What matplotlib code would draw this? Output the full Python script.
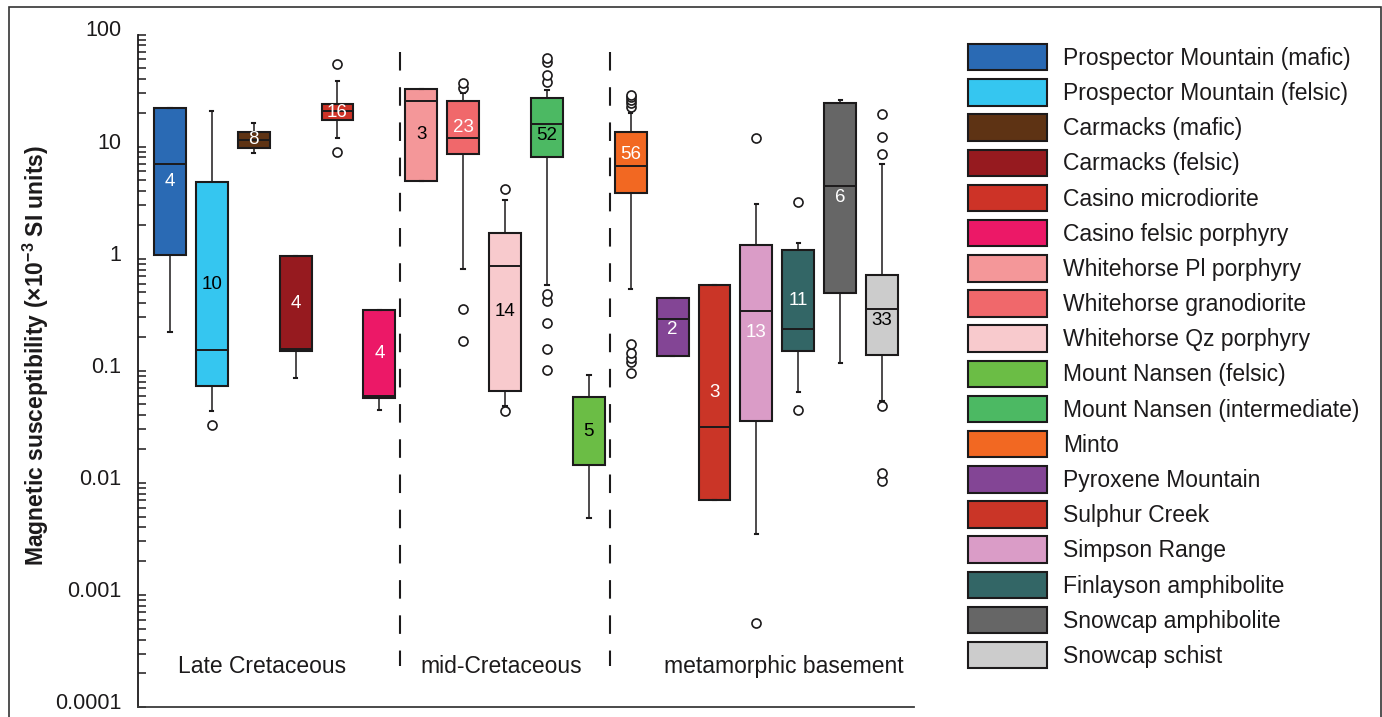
import matplotlib
matplotlib.use('Agg')
import matplotlib.pyplot as plt
from matplotlib.patches import Patch, Rectangle
from matplotlib.ticker import LogLocator, FuncFormatter, NullFormatter
from matplotlib.transforms import ScaledTranslation
import numpy as np

# Fonts (Arial look-alike), mathtext for the superscript in the y label
plt.rcParams['font.family'] = ['Liberation Sans', 'DejaVu Sans']
plt.rcParams['mathtext.fontset'] = 'custom'
plt.rcParams['mathtext.rm'] = 'Liberation Sans'
plt.rcParams['mathtext.bf'] = 'Liberation Sans:bold'

# Units in the order they appear on the chart
units = ['Prospector Mountain (mafic)', 'Prospector Mountain (felsic)',
         'Carmacks (mafic)', 'Carmacks (felsic)', 'Casino microdiorite',
         'Casino felsic porphyry', 'Whitehorse Pl porphyry', 'Whitehorse granodiorite',
         'Whitehorse Qz porphyry', 'Mount Nansen (intermediate)', 'Mount Nansen (felsic)',
         'Minto', 'Pyroxene Mountain', 'Sulphur Creek', 'Simpson Range',
         'Finlayson amphibolite', 'Snowcap amphibolite', 'Snowcap schist']
n_samples = [4, 10, 8, 4, 16, 4, 3, 23, 14, 52, 5, 56, 2, 3, 13, 11, 6, 33]

# Box statistics (x10^-3 SI)
whis_lo = [0.222, 0.0435, 8.73, 0.0863, 12.0, 0.045, 4.98, 0.807, 0.048,
           0.585, 0.00481, 0.536, 0.136, 0.007, 0.00346, 0.0647, 0.1174, 0.0533]
q1 = [1.07, 0.0732, 9.73, 0.149, 17.1, 0.0568, 4.98, 8.67, 0.0665,
      8.1, 0.01436, 3.85, 0.136, 0.007, 0.0357, 0.151, 0.497, 0.139]
median = [7.06, 0.152, 11.5, 0.156, 20.8, 0.0591, 25.7, 12.0, 0.852,
          15.9, 0.0584, 6.73, 0.291, 0.0313, 0.338, 0.236, 4.46, 0.356]
q3 = [22.3, 4.82, 13.5, 1.055, 23.9, 0.351, 32.7, 25.7, 1.71,
      27.0, 0.0584, 13.6, 0.446, 0.577, 1.33, 1.19, 24.7, 0.719]
whis_hi = [22.3, 20.9, 16.4, 1.055, 38.8, 0.351, 32.7, 29.9, 3.35,
           32.0, 0.0923, 20.1, 0.446, 0.577, 3.10, 1.37, 26.1, 7.02]
outliers = [
    [],
    [0.0329],
    [],
    [],
    [8.91, 54.6],
    [],
    [],
    [0.183, 0.358, 33.5, 37.3],
    [0.044, 4.16],
    [0.101, 0.157, 0.267, 0.416, 0.486, 37.5, 43.6, 57.3, 61.4],
    [],
    [0.0955, 0.119, 0.130, 0.144, 0.173, 22.4, 24.4, 26.1, 27.5, 28.9],
    [],
    [],
    [0.000565, 11.9],
    [0.045, 3.19],
    [],
    [0.0103, 0.0123, 0.0482, 8.55, 12.1, 19.5],
]

groups = ['Late Cretaceous', 'mid-Cretaceous', 'metamorphic basement']
group_x = [3.19, 8.91, 15.66]
dividers = [6.5, 11.5]

# styling
colors = ['#2a6ab4', '#35c6f0', '#5e3314', '#961a1f', '#cd3327', '#ec1867',
          '#f49799', '#f0686b', '#f8cacd', '#4cb963', '#6bbd45', '#f26822',
          '#834595', '#ca3527', '#da9cc7', '#336666', '#666666', '#cccccc']
label_colors = ['white', 'black', 'white', 'white', 'white', 'white',
                'black', 'white', 'black', 'black', 'black', 'white',
                'white', 'white', 'white', 'white', 'white', 'black']
legend_order = [0, 1, 2, 3, 4, 5, 6, 7, 8, 10, 9, 11, 12, 13, 14, 15, 16, 17]
ink = '#1c1a1b'

W, H = 1382, 717
fig = plt.figure(figsize=(W / 100, H / 100), dpi=100)
ax = fig.add_axes([138 / W, 10 / H, 776 / W, 672.5 / H])

stats = [dict(med=m, q1=a, q3=b, whislo=lo, whishi=hi, fliers=f)
         for m, a, b, lo, hi, f in zip(median, q1, q3, whis_lo, whis_hi, outliers)]
positions = np.arange(1, len(units) + 1)

bp = ax.bxp(stats, positions=positions, widths=0.76, patch_artist=True,
            showfliers=True, capwidths=0.08,
            boxprops=dict(edgecolor=ink, linewidth=1.5),
            medianprops=dict(color=ink, linewidth=1.4),
            whiskerprops=dict(color=ink, linewidth=1.1),
            capprops=dict(color=ink, linewidth=1.5),
            flierprops=dict(marker='o', markerfacecolor='white', markeredgecolor=ink,
                            markersize=6.5, markeredgewidth=1.2))
for patch, c in zip(bp['boxes'], colors):
    patch.set_facecolor(c)

ax.set_yscale('log')
ax.set_ylim(1e-4, 100)
ax.set_xlim(0.238, 18.762)

# sample counts written in the middle of each box (nudged off the median line)
for pos, n, a, b, m, tc in zip(positions, n_samples, q1, q3, median, label_colors):
    la, lb, lm = np.log10(a), np.log10(b), np.log10(m)
    ly = (la + lb) / 2
    if lb - la > 0.3 and abs(ly - lm) < 0.08:
        ly = lm - 0.1 if ly <= lm else lm + 0.1
    ax.text(pos, 10 ** ly, str(n), ha='center', va='center', color=tc, fontsize=13.5)

# dashed dividers between the age groups
for xd in dividers:
    ax.plot([xd, xd], [69.8, 2.3e-4], color=ink, lw=1.5, linestyle=(0, (8.9, 8.0)))

for gx, g in zip(group_x, groups):
    ax.text(gx, 0.05, g, transform=ax.get_xaxis_transform(), ha='center',
            va='baseline', fontsize=16.5, color=ink)

# axes styling
ax.yaxis.set_major_locator(LogLocator(base=10, numticks=10))
ax.yaxis.set_minor_locator(LogLocator(base=10, subs=np.arange(2, 10), numticks=20))
ax.yaxis.set_major_formatter(FuncFormatter(lambda v, _: np.format_float_positional(v, trim='-')))
ax.yaxis.set_minor_formatter(NullFormatter())
ax.tick_params(axis='y', which='both', direction='in', length=5.8, width=1.1,
               color=ink, labelsize=15.5, labelcolor=ink, pad=12)
ax.tick_params(axis='x', bottom=False, labelbottom=False)
ax.spines['top'].set_visible(False)
ax.spines['right'].set_visible(False)
ax.spines['left'].set_linewidth(1.3)
ax.spines['left'].set_color(ink)
ax.spines['bottom'].set_linewidth(1.3)
ax.spines['bottom'].set_color('#3a3a3a')

# tick labels sit a few pixels above their ticks in the original
lift = ScaledTranslation(0, 0.06, fig.dpi_scale_trans)
for t in ax.yaxis.get_major_ticks():
    t.label1.set_transform(t.label1.get_transform() + lift)

ax.set_ylabel(r'Magnetic susceptibility (×10$^{\mathbf{-3}}$ SI units)',
              fontsize=16.5, fontweight='bold', color=ink)
ax.yaxis.set_label_coords(-0.112, 0.522)

# legend in the listed order
handles = [Patch(facecolor=colors[i], edgecolor=ink, linewidth=1.5) for i in legend_order]
labels = [units[i] for i in legend_order]
fig.legend(handles, labels, loc='upper left', bbox_to_anchor=(968 / W, 1 - 44 / H),
           frameon=False, fontsize=16.5, handlelength=3.45, handleheight=1.40,
           labelspacing=0.38, handletextpad=0.71, borderpad=0, borderaxespad=0,
           labelcolor=ink)

# outer frame round the figure
fig.add_artist(Rectangle((9 / W, -0.05), (1380.5 - 9) / W, (H - 7) / H + 0.05,
                         transform=fig.transFigure, fill=False, edgecolor='#333333',
                         linewidth=1.2, clip_on=False))

fig.savefig('out.png', dpi=100)
